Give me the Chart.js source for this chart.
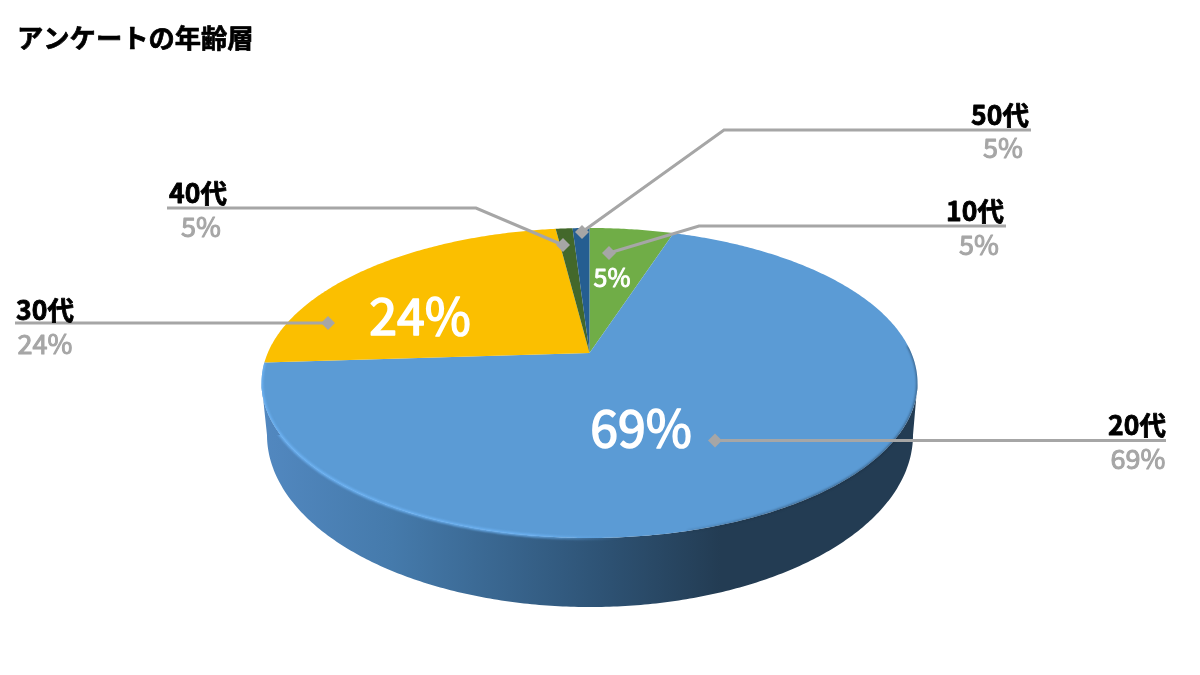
<!DOCTYPE html>
<html>
<head>
<meta charset="utf-8">
<title>アンケートの年齢層</title>
<script src="https://cdn.jsdelivr.net/npm/chart.js@4"></script>
<style>
  html, body { margin: 0; background: #fff; }
  canvas { display: block; }
</style>
</head>
<body>
<canvas id="ageChart" width="1200" height="675"></canvas>
<script>
  // Data
  var chartTitle = "アンケートの年齢層";
  var categories = ["10代", "20代", "30代", "40代", "50代"];
  var sliceShares = [5, 69, 24, 1, 1]; // visible size of each slice
  var valueLabels = ["5%", "69%", "24%", "5%", "5%"]; // text printed on the chart (as in the original)

  var sliceColors = ["#70AD47", "#5B9BD5", "#FBBF00", "#43682B", "#255E91"];

  // Perspective of the tilted disc: apex on screen, radii, foreshortening
  var disc = { x: 589.5, y: 353, a: 321.8, b: 149.2, k: 0.1935 };
  var base = { x: 590, y: 401.7, a: 316.9, b: 165.6, k: 0.1935 };

  // Leader lines and label placement
  var callouts = [
    { path: [[1006, 226], [699, 226], [609, 253]], nameAt: [975, 211], valueAt: [979, 245] },
    { path: [[1166, 440.5], [715, 440.5]], nameAt: [1137, 425], valueAt: [1138, 459] },
    { path: [[15, 323], [328, 323]], nameAt: [45, 310], valueAt: [45, 344] },
    { path: [[167, 208], [476, 208], [563, 245]], nameAt: [198, 193], valueAt: [201, 227] },
    { path: [[1031, 130], [724, 130], [582, 232]], nameAt: [1000, 115], valueAt: [1003, 148] },
  ];
  var insideLabels = [
    { at: [612, 277], size: 25, bolden: 0.9 },
    { at: [641, 428], size: 50, bolden: 1.6 },
    { at: [420, 316], size: 50, bolden: 1.6 },
  ];

  var fontName = '"Noto Sans CJK JP", sans-serif';

  function project(d, angle) {
    var u = Math.cos(angle), v = Math.sin(angle);
    var w = 1 - d.k * v;
    return [d.x + (d.a * u) / w, d.y + (d.b * v) / w];
  }

  function traceArc(ctx, d, from, to, moveFirst) {
    var steps = Math.max(2, Math.ceil(Math.abs(to - from) / 0.01));
    for (var i = 0; i <= steps; i++) {
      var p = project(d, from + ((to - from) * i) / steps);
      if (i === 0 && moveFirst) ctx.moveTo(p[0], p[1]);
      else ctx.lineTo(p[0], p[1]);
    }
  }

  // Regular weight with a thin outline, the file's medium-weight text
  function heavyText(ctx, text, x, y, color, extra) {
    ctx.fillStyle = color;
    ctx.strokeStyle = color;
    ctx.lineWidth = extra;
    ctx.lineJoin = "round";
    ctx.strokeText(text, x, y);
    ctx.fillText(text, x, y);
  }

  // Paints the pie as a tilted 3D disc, using the angles Chart.js worked out
  var tiltedPie = {
    id: "tiltedPie",
    beforeDatasetsDraw: function (chart) {
      var ctx = chart.ctx;
      var arcs = chart.getDatasetMeta(0).data;
      var widest = Math.asin(disc.k);
      ctx.save();

      // side wall
      var wall = ctx.createLinearGradient(262, 0, 917, 0);
      wall.addColorStop(0, "#5288C0");
      wall.addColorStop(0.2, "#457AAB");
      wall.addColorStop(0.5, "#2F5578");
      wall.addColorStop(0.7, "#233C53");
      wall.addColorStop(1, "#233C53");
      ctx.beginPath();
      traceArc(ctx, base, widest, Math.PI - widest, true);
      traceArc(ctx, disc, Math.PI - widest, widest, false);
      ctx.closePath();
      ctx.fillStyle = wall;
      ctx.fill();

      // top face
      arcs.forEach(function (arc, i) {
        ctx.beginPath();
        ctx.moveTo(disc.x, disc.y);
        traceArc(ctx, disc, arc.startAngle, arc.endAngle, false);
        ctx.closePath();
        ctx.fillStyle = sliceColors[i];
        ctx.fill();
      });

      // rim effects stay inside the disc and wall outline
      ctx.beginPath();
      traceArc(ctx, disc, 0, Math.PI * 2, true);
      ctx.closePath();
      traceArc(ctx, base, widest, Math.PI - widest, true);
      ctx.closePath();
      ctx.clip();

      // light rim on the lower left of the disc
      var rim = ctx.createLinearGradient(262, 0, 620, 0);
      rim.addColorStop(0, "rgba(110,180,245,0.95)");
      rim.addColorStop(0.75, "rgba(110,180,245,0.9)");
      rim.addColorStop(1, "rgba(110,180,245,0)");
      ctx.filter = "blur(0.8px)";
      ctx.beginPath();
      traceArc(ctx, disc, Math.PI * 0.98, Math.PI * 0.45, true);
      ctx.lineWidth = 3;
      ctx.strokeStyle = rim;
      ctx.stroke();

      // dark soft edge on the right
      var edge = ctx.createLinearGradient(640, 0, 917, 0);
      edge.addColorStop(0, "rgba(25,45,65,0)");
      edge.addColorStop(0.5, "rgba(25,45,65,0.5)");
      edge.addColorStop(1, "rgba(25,45,65,0.6)");
      ctx.beginPath();
      traceArc(ctx, disc, Math.PI * 0.42, -0.05, true);
      ctx.lineWidth = 2;
      ctx.strokeStyle = edge;
      ctx.stroke();

      ctx.restore();
      return false;
    },
    afterDraw: function (chart) {
      var ctx = chart.ctx;
      ctx.save();
      ctx.textBaseline = "middle";

      ctx.font = "700 26.3px " + fontName;
      ctx.textAlign = "left";
      heavyText(ctx, chartTitle, 17, 38, "#000000", 0.7);

      ctx.textAlign = "center";
      insideLabels.forEach(function (item, i) {
        ctx.font = "400 " + item.size + "px " + fontName;
        heavyText(ctx, valueLabels[i], item.at[0], item.at[1], "#FFFFFF", item.bolden);
      });

      callouts.forEach(function (c, i) {
        ctx.beginPath();
        c.path.forEach(function (p, n) {
          if (n === 0) ctx.moveTo(p[0], p[1]);
          else ctx.lineTo(p[0], p[1]);
        });
        ctx.lineWidth = 3;
        ctx.lineJoin = "miter";
        ctx.strokeStyle = "#A6A6A6";
        ctx.stroke();

        var end = c.path[c.path.length - 1];
        ctx.beginPath();
        ctx.moveTo(end[0] - 7, end[1]);
        ctx.lineTo(end[0], end[1] - 7);
        ctx.lineTo(end[0] + 7, end[1]);
        ctx.lineTo(end[0], end[1] + 7);
        ctx.closePath();
        ctx.fillStyle = "#A6A6A6";
        ctx.fill();

        ctx.font = "700 26.5px " + fontName;
        heavyText(ctx, categories[i], c.nameAt[0], c.nameAt[1], "#000000", 0.8);

        ctx.font = "400 27px " + fontName;
        heavyText(ctx, valueLabels[i], c.valueAt[0], c.valueAt[1], "#A6A6A6", 1);
      });
      ctx.restore();
    },
  };

  new Chart(document.getElementById("ageChart").getContext("2d"), {
    type: "pie",
    data: {
      labels: categories,
      datasets: [{ data: sliceShares, backgroundColor: sliceColors, borderWidth: 0 }],
    },
    options: {
      responsive: false,
      animation: false,
      plugins: {
        legend: { display: false },
        tooltip: { enabled: false },
      },
    },
    plugins: [tiltedPie],
  });
</script>
</body>
</html>
